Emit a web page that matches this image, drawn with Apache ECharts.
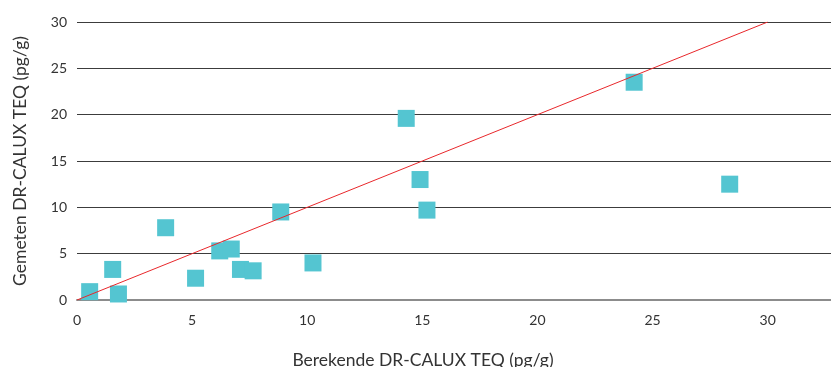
<!DOCTYPE html>
<html>
<head>
<meta charset="utf-8">
<script src="https://cdn.jsdelivr.net/npm/echarts@6/dist/echarts.min.js"></script>
<style>html,body{margin:0;padding:0;background:#fff}#c{width:831px;height:367px}</style>
</head>
<body>
<div id="c"></div>
<script>
// Data
const berekend = [0.55, 1.55, 1.8, 3.85, 5.15, 6.2, 6.7, 7.1, 7.65, 8.85, 10.25, 14.3, 14.9, 15.2, 24.2, 28.35];
const gemeten  = [0.9, 3.3, 0.65, 7.8, 2.35, 5.3, 5.5, 3.3, 3.15, 9.5, 4.0, 19.6, 13.0, 9.7, 23.5, 12.5];
const lijnX = [0, 30];
const lijnY = [0, 30];
const xTitle = 'Berekende DR-CALUX TEQ (pg/g)';
const yTitle = 'Gemeten DR-CALUX TEQ (pg/g)';

const pts = berekend.map((x, i) => [x, gemeten[i]]);
const lijn = lijnX.map((x, i) => [x, lijnY[i]]);
const font = 'Lato, "Open Sans", sans-serif';

const chart = echarts.init(document.getElementById('c'), null, {renderer: 'canvas'});
chart.setOption({
  animation: false,
  backgroundColor: '#fff',
  title: {
    text: xTitle, left: 418, top: 346, textAlign: 'center',
    textStyle: {fontFamily: font, fontSize: 17.5, fontWeight: 'normal', color: '#333'}
  },
  grid: {left: 77, right: 0, top: 22, bottom: 67},
  xAxis: {
    type: 'value', min: 0, max: 32.75, interval: 5,
    axisLine: {show: true, lineStyle: {color: '#8c8c8c', width: 2}},
    axisTick: {show: false},
    splitLine: {show: false},
    axisLabel: {showMaxLabel: false, color: '#333', fontFamily: font, fontSize: 14, margin: 13}
  },
  yAxis: {
    type: 'value', min: 0, max: 30, interval: 5,
    name: yTitle, nameLocation: 'middle', nameGap: 48,
    nameTextStyle: {fontFamily: font, fontSize: 17.5, color: '#333'},
    axisLine: {show: false},
    axisTick: {show: false},
    splitLine: {show: true, lineStyle: {color: '#3c3c3c', width: 1}},
    axisLabel: {color: '#333', fontFamily: font, fontSize: 14, margin: 10}
  },
  series: [
    {
      type: 'scatter', data: pts, symbol: 'rect', symbolSize: 17,
      itemStyle: {color: '#54C5D1', opacity: 1}, z: 2
    },
    {
      type: 'line', data: lijn, symbol: 'none',
      lineStyle: {color: '#E8272B', width: 1}, z: 3
    }
  ]
});
</script>
</body>
</html>
